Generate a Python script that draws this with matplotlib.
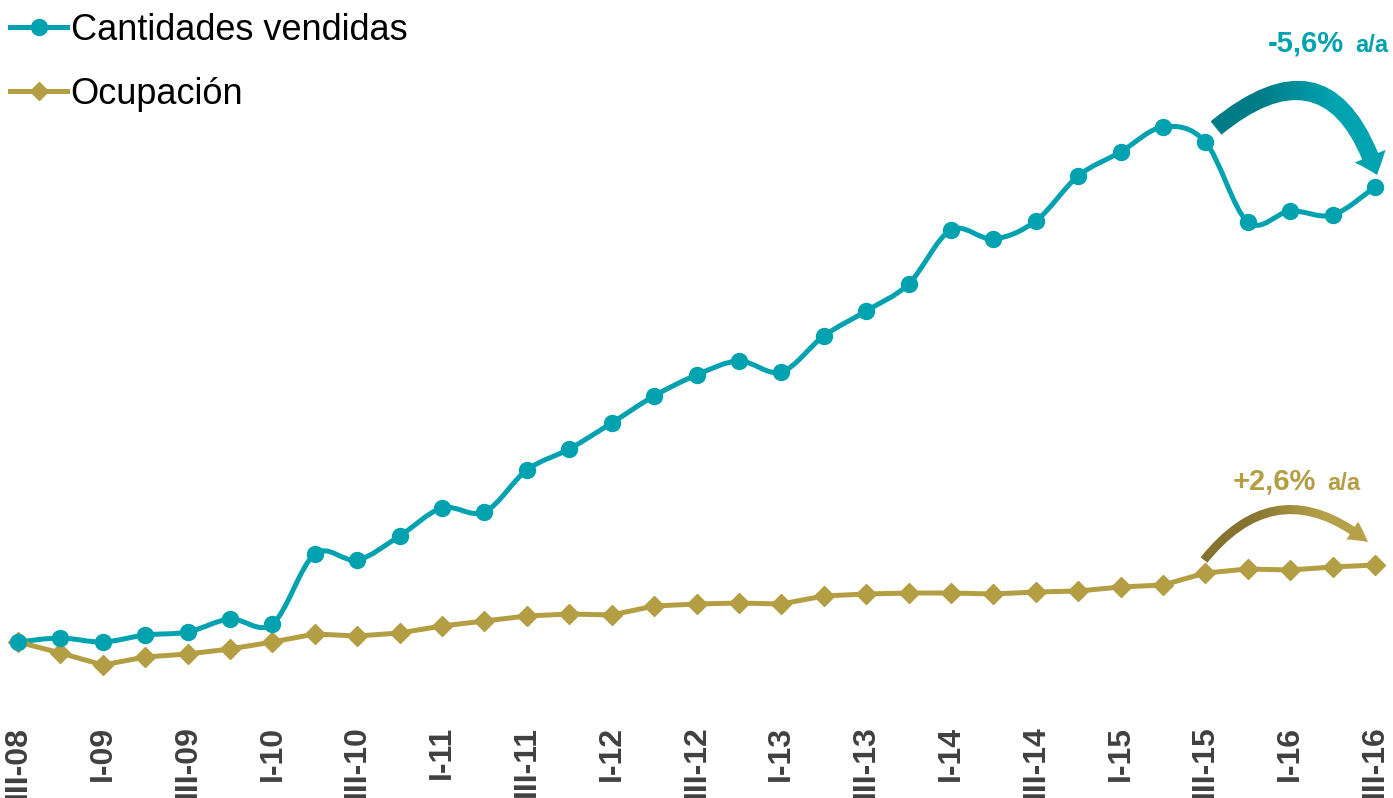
import numpy as np
import matplotlib
matplotlib.use("Agg")
import matplotlib.pyplot as plt
from matplotlib.path import Path
from matplotlib.patches import PathPatch, FancyArrowPatch, ArrowStyle
from matplotlib.lines import Line2D
from matplotlib.colors import LinearSegmentedColormap

# quarterly data, index III-08 = 100
cantidades = [100.0, 100.8, 100.0, 101.4, 102.0, 104.6, 103.6, 117.6, 116.4, 121.2,
              126.8, 126.0, 134.4, 138.6, 143.8, 149.2, 153.4, 156.2, 154.0, 161.2,
              166.2, 171.6, 182.4, 180.6, 184.2, 193.2, 198.0, 203.0, 200.0, 184.0,
              186.2, 185.4, 191.0]
ocupacion = [100.0, 97.8, 95.4, 97.0, 97.6, 98.6, 100.0, 101.6, 101.2, 101.8,
             103.2, 104.2, 105.2, 105.6, 105.4, 107.2, 107.6, 107.8, 107.6, 109.2,
             109.6, 109.8, 109.8, 109.6, 110.0, 110.2, 111.0, 111.4, 113.8, 114.6,
             114.4, 115.0, 115.4]
tick_labels = ['III-08', 'I-09', 'III-09', 'I-10', 'III-10', 'I-11', 'III-11', 'I-12',
               'III-12', 'I-13', 'III-13', 'I-14', 'III-14', 'I-15', 'III-15', 'I-16', 'III-16']

teal = '#00A2AF'
gold = '#B49E44'

plt.rcParams['font.family'] = ['Liberation Sans', 'DejaVu Sans']

W, H = 1393, 798
fig = plt.figure(figsize=(W / 100, H / 100), dpi=100)
ax = fig.add_axes([0, 1 - 720 / H, 1, 720 / H])
xlim = (-0.4245, 32.4245)
ylim = (84.4, 228.4)

x = np.arange(len(cantidades))

# smooth line for cantidades (Catmull-Rom -> cubic bezier)
pts = np.column_stack([x, cantidades])
verts = [pts[0]]
codes = [Path.MOVETO]
for i in range(len(pts) - 1):
    p0 = pts[i - 1] if i > 0 else pts[i]
    p1 = pts[i]
    p2 = pts[i + 1]
    p3 = pts[i + 2] if i + 2 < len(pts) else pts[i + 1]
    c1 = p1 + (p2 - p0) / 6
    c2 = p2 - (p3 - p1) / 6
    verts += [c1, c2, p2]
    codes += [Path.CURVE4] * 3
ax.add_patch(PathPatch(Path(verts, codes), fill=False, edgecolor=teal, lw=3.6,
                       capstyle='round', joinstyle='round', zorder=3))
ax.plot(x, cantidades, 'o', color=teal, markersize=11.5, zorder=4)

ax.plot(x, ocupacion, '-', color=gold, lw=3.6, marker='D', markersize=10,
        solid_joinstyle='round', zorder=3)

# axis
ax.set_xticks(np.arange(0, 33, 2))
ax.set_xticklabels(tick_labels, rotation=90, fontsize=23, fontweight='bold', color='#404040',
                   va='top', ha='center')
ax.tick_params(axis='x', length=0, pad=4)
ax.set_yticks([])
for s in ax.spines.values():
    s.set_visible(False)

# legend
handles = [Line2D([], [], color=teal, lw=3.6, marker='o', markersize=11.5),
           Line2D([], [], color=gold, lw=3.6, marker='D', markersize=9)]
ax.legend(handles, ['Cantidades vendidas', 'Ocupación'], loc='upper left',
          bbox_to_anchor=(10 / W, 1 - 13 / 720), frameon=False, fontsize=26,
          handlelength=1.58, handletextpad=0.1, labelspacing=0.8, borderaxespad=0,
          borderpad=0)

# annotations
fig.text(1344 / W, 1 - 52 / H, '-5,6%', color=teal, fontsize=21, fontweight='bold', ha='right', va='baseline')
fig.text(1388 / W, 1 - 52 / H, 'a/a', color=teal, fontsize=17, fontweight='bold', ha='right', va='baseline')
fig.text(1316 / W, 1 - 490 / H, '+2,6%', color=gold, fontsize=21, fontweight='bold', ha='right', va='baseline')
fig.text(1360 / W, 1 - 490 / H, 'a/a', color=gold, fontsize=17, fontweight='bold', ha='right', va='baseline')


def px(u, v):
    # figure pixel -> data coords
    return ((u - 18) / 42.406, 100 + (642 - v) / 5)


def grad_arrow(p0, p1, rad, style, scale, c0, c1):
    arr = FancyArrowPatch(px(*p0), px(*p1), connectionstyle='arc3,rad=%s' % rad,
                          arrowstyle=style, mutation_scale=scale, shrinkA=0, shrinkB=0,
                          facecolor='none', edgecolor='none', lw=0, zorder=5)
    ax.add_patch(arr)
    cmap = LinearSegmentedColormap.from_list('g', [c0, c0, c1, c1])
    x0, y0 = px(min(p0[0], p1[0]) - 30, max(p0[1], p1[1]) + 30)
    x1, y1 = px(max(p0[0], p1[0]) + 30, min(p0[1], p1[1]) - 110)
    im = ax.imshow(np.linspace(0, 1, 256)[None, :], cmap=cmap, aspect='auto',
                   extent=[x0, x1, y0, y1], interpolation='bilinear', zorder=5)
    im.set_clip_path(arr)


grad_arrow((1216, 128), (1377, 175), -0.73,
           ArrowStyle.Simple(head_length=0.72, head_width=1.2, tail_width=0.62), 20,
           '#007C87', '#00A3B0')
grad_arrow((1204, 560), (1368, 542), -0.5,
           ArrowStyle.Simple(head_length=1.0, head_width=1.1, tail_width=0.45), 14,
           '#857330', '#B6A14A')

ax.set_xlim(*xlim)
ax.set_ylim(*ylim)

fig.savefig('out.png', dpi=100)
